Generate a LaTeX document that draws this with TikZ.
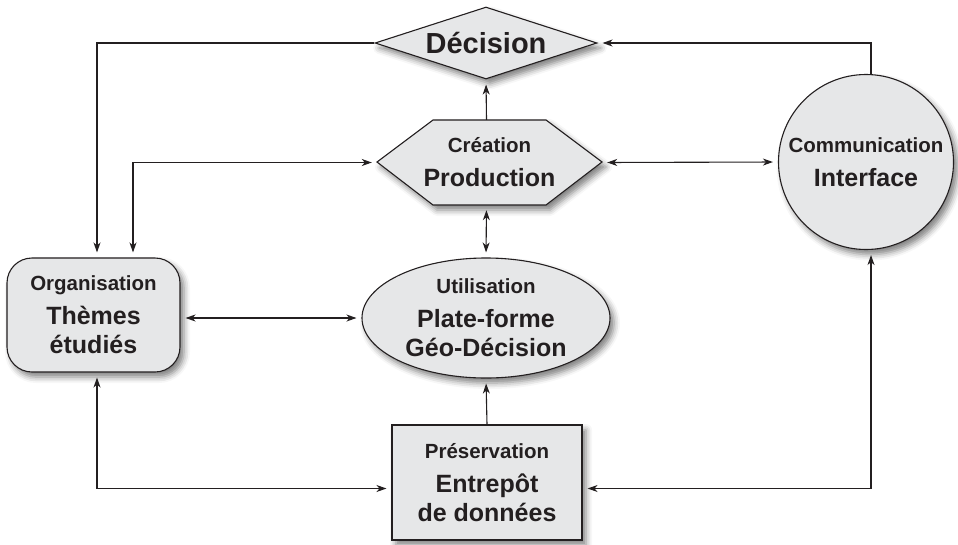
\documentclass[tikz,border=0pt]{standalone}
\usepackage{fontspec}
\setmainfont{Liberation Sans}
\usetikzlibrary{shapes.geometric,arrows.meta,shadows.blur}
\definecolor{boxfill}{HTML}{E6E7E8}
\definecolor{ink}{HTML}{231F20}
\newcommand\smtxt{\fontsize{20.5}{23}\selectfont}
\newcommand\bgtxt{\fontsize{25}{29}\selectfont}
\begin{document}
\begin{tikzpicture}[x=1pt,y=-1pt,
  shdw/.style={blur shadow={shadow xshift=4pt,shadow yshift=-5pt,shadow blur radius=6pt,shadow opacity=50}},
  shp/.style={draw=ink,line width=1.1pt,fill=boxfill,inner sep=0pt,align=center,
    text=ink,font=\bfseries\bgtxt,shdw},
  lbl/.style={inner sep=0pt,align=center,text=ink,font=\bfseries\bgtxt},
  arr/.style={draw=ink,line width=1.1pt,-{Stealth[length=10pt,width=7pt,inset=3pt]},shorten >=5pt},
  darr/.style={draw=ink,line width=1.1pt,{Stealth[length=10pt,width=7pt,inset=3pt]}-{Stealth[length=10pt,width=7pt,inset=3pt]},shorten >=5pt,shorten <=5pt}]
\useasboundingbox (0,0) rectangle (958,544);
\node[shp,diamond,aspect=3,minimum width=222pt,minimum height=72pt] (dec) at (486,43) {\fontsize{29}{32}\selectfont Décision};
% hexagon drawn as a path, with a named node for its text and anchors
\draw[draw=ink,line width=1.1pt,fill=boxfill,shdw] (377,162) -- (433,120) -- (546,120) -- (602,162) -- (546,205) -- (433,205) -- cycle;
\node[lbl,rectangle,minimum width=225pt,minimum height=85pt] (prod) at (489.5,162.5) {{\smtxt Création}\\[5pt]Production};
\node[shp,rectangle,rounded corners=25pt,minimum width=173pt,minimum height=114pt] (org) at (93.5,315) {{\smtxt Organisation}\\[5pt]Thèmes\\étudiés};
\node[shp,ellipse,minimum width=248pt,minimum height=120pt] (util) at (486,318) {{\smtxt Utilisation}\\[5pt]Plate-forme\\Géo-Décision};
\node[shp,rectangle,minimum width=190pt,minimum height=115pt] (pres) at (487,482.5) {{\smtxt Préservation}\\[5pt]Entrepôt\\de données};
\node[shp,circle,minimum size=175pt] (com) at (866,162) {{\smtxt Communication}\\[5pt]Interface};
% connectors
\draw[arr] (dec.west) -| ([xshift=3.5pt]org.north);
\draw[arr] ([xshift=5pt]com.north) |- (dec.east);
\draw[arr] ([xshift=-3pt]prod.north) -- (dec.south);
\draw[darr] (prod.west) -| ([xshift=39.5pt]org.north);
\draw[darr] (prod.east) -- (com.west);
\draw[darr] ([xshift=-3pt]prod.south) -- (util.north);
\draw[darr] ([yshift=-3pt]org.east) -- ([yshift=-3pt]org.east -| util.west);
\draw[arr] (pres.north) -- (util.south);
\draw[darr] ([xshift=3.5pt]org.south) |- ([yshift=-6pt]pres.west);
\draw[darr] ([yshift=-6pt]pres.east) -| ([xshift=5pt]com.south);
\end{tikzpicture}
\end{document}
